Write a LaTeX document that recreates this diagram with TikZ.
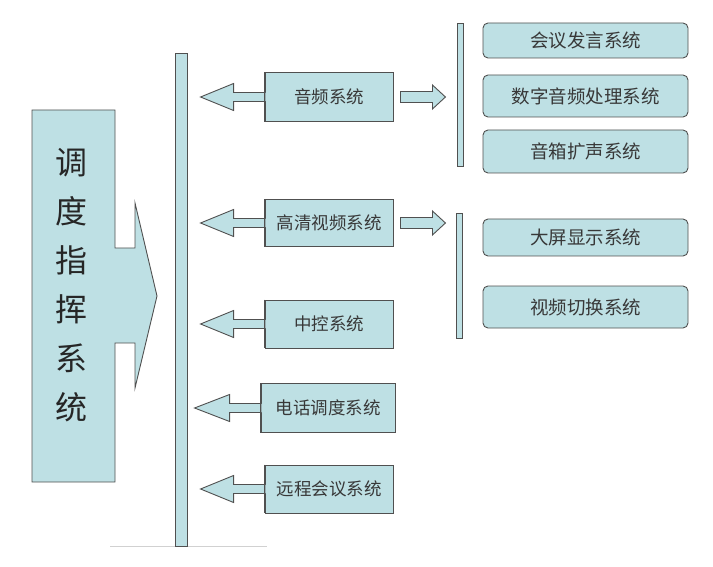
\documentclass[tikz,border=0pt]{standalone}
\usepackage{fontspec}
\newfontfamily\cjk{Noto Sans CJK SC}
\usetikzlibrary{calc}
\definecolor{boxfill}{RGB}{190,224,228}
\definecolor{boxline}{RGB}{80,80,80}
\tikzset{
  every node/.style={font=\cjk},
  sysbox/.style={draw=boxline, fill=boxfill, line width=0.9pt, minimum height=48pt, inner sep=0pt, font=\cjk\fontsize{17.5}{17.5}\selectfont, text=black!78},
  subbox/.style={draw=boxline, fill=boxfill, line width=0.9pt, rounded corners=5pt, minimum width=205pt, inner sep=0pt, font=\cjk\fontsize{18.5}{18.5}\selectfont, text=black!78},
  barshape/.style={draw=boxline, fill=boxfill, line width=0.9pt},
  blockarrow/.style={draw=boxline, fill=boxfill, line width=0.9pt, line join=miter},
}
\begin{document}
\begin{tikzpicture}[x=1pt,y=-1pt]
\useasboundingbox (0,0) rectangle (713,567);
% faint base line
\draw[black!18, line width=0.8pt] (110,546) -- (267,546);
% main bar
\draw[barshape] (175,53) rectangle (187,546);
% main arrow shape
\draw[blockarrow] (32,110) -- (115,110) -- (115,248) -- (135,248) -- (135,203) -- (157,296) -- (135,388) -- (135,343) -- (115,343) -- (115,482) -- (32,482) -- cycle;
\node[font=\cjk\fontsize{32}{49}\selectfont, align=center, text=black!85] (main) at (72,285) {调\\度\\指\\挥\\系\\统};
% system boxes
\node[sysbox, minimum width=128pt, minimum height=49pt] (audio) at (329,97) {音频系统};
\node[sysbox, minimum width=128pt, minimum height=47pt] (video) at (329,223) {高清视频系统};
\node[sysbox, minimum width=128pt, minimum height=48pt] (ctrl) at (329,324) {中控系统};
\node[sysbox, minimum width=134pt, minimum height=49pt] (phone) at (328,408) {电话调度系统};
\node[sysbox, minimum width=128pt, minimum height=48pt] (conf) at (329,489) {远程会议系统};
% left arrows
\foreach \b/\d in {audio/32,video/32,ctrl/32,phone/34,conf/32}{
  \draw[blockarrow] ($(\b.west)+(1,-4.5)$) -- ++(-32,0) -- ++(0,-9) -- ($(\b.west)+(-\d-32,0)$)
     -- ($(\b.west)+(-31,13.5)$) -- ++(0,-9) -- ($(\b.west)+(1,4.5)$);
}
% redraw box edges on top
\foreach \b in {audio,video,ctrl,phone,conf}{
  \draw[boxline, line width=0.9pt] (\b.north west) -- (\b.south west);
}
% right arrows
\foreach \b in {audio,video}{
  \draw[blockarrow] ($(\b.east)+(7,-5.5)$) -- ++(32,0) -- ++(0,-6.5) -- ++(13,12) -- ++(-13,12) -- ++(0,-6.5) -- ++(-32,0) -- cycle;
}
% right bars
\draw[barshape] (457,23) rectangle (463,166);
\draw[barshape] (456,213) rectangle (462,338);
% sub boxes
\node[subbox, minimum height=35pt] (s1) at (585.5,40.5) {会议发言系统};
\node[subbox, minimum height=42pt] (s2) at (585.5,96) {数字音频处理系统};
\node[subbox, minimum height=43pt] (s3) at (585.5,151.5) {音箱扩声系统};
\node[subbox, minimum height=37pt] (s4) at (585.5,237.5) {大屏显示系统};
\node[subbox, minimum height=42pt] (s5) at (585.5,307) {视频切换系统};
\end{tikzpicture}
\end{document}
